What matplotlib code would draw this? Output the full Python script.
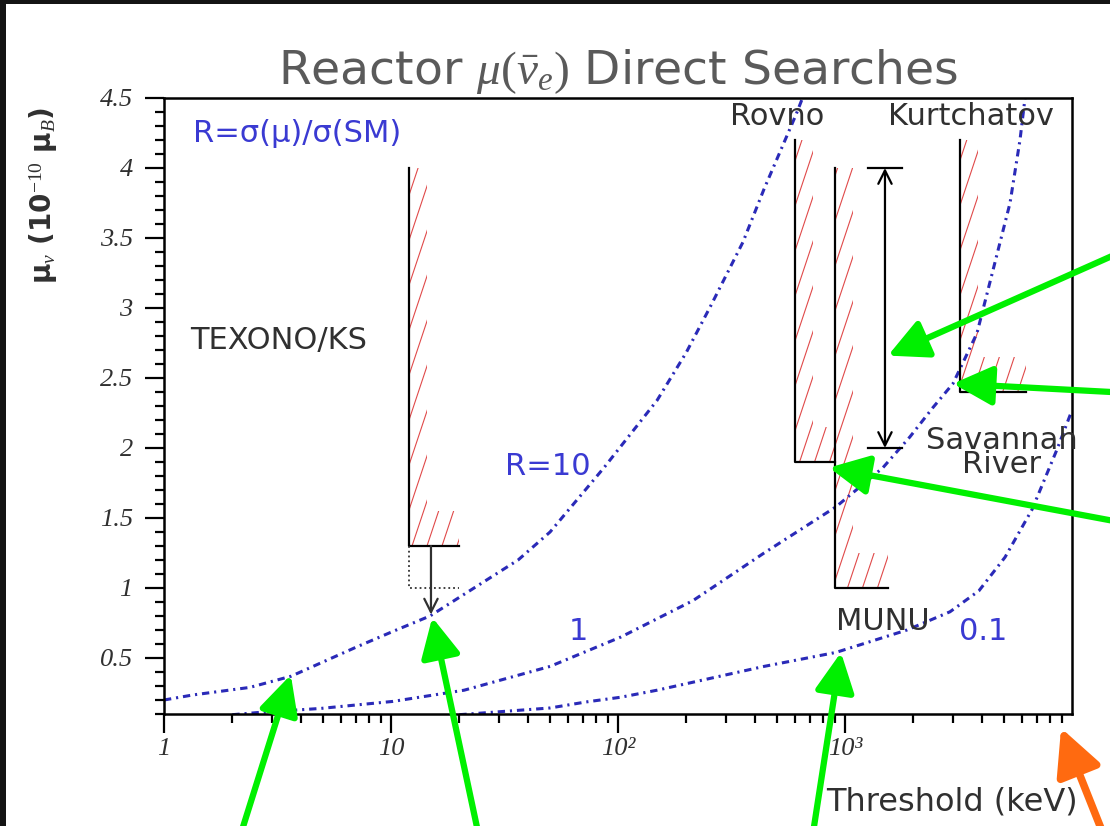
"""Reactor neutrino magnetic moment limits versus detector threshold."""

import matplotlib
matplotlib.use('Agg')
import matplotlib.pyplot as plt
import numpy as np
from matplotlib.collections import LineCollection
from matplotlib.patches import Polygon, Rectangle
from matplotlib.ticker import FixedLocator, FixedFormatter, NullFormatter

plt.rcParams.update({'font.family': 'DejaVu Sans',
                     'mathtext.fontset': 'custom',
                     'mathtext.rm': 'Liberation Serif',
                     'mathtext.it': 'Liberation Serif:italic',
                     'mathtext.bf': 'Liberation Serif:bold'})

blue = '#2a2ab8'
ink = '#303030'
hatch_red = '#e04a4a'

# iso-R curves, R = sigma(mu)/sigma(SM)
r10_thr = [1.0, 1.34, 2.39, 3.63, 7.08, 10.2, 14.85, 36.3, 50.2, 86.8, 148.6, 199.5, 257, 355, 440, 608, 650]
r10_mu = [0.20, 0.236, 0.29, 0.37, 0.58, 0.69, 0.80, 1.20, 1.40, 1.86, 2.34, 2.68, 3.02, 3.47, 3.85, 4.38, 4.5]
r1_thr = [2.0, 2.57, 4.92, 10.2, 21.0, 50.2, 103, 214, 440, 913, 1470, 1933, 2443, 2990, 3814, 4487, 5333, 5900, 6210]
r1_mu = [0.095, 0.11, 0.14, 0.19, 0.27, 0.44, 0.65, 0.91, 1.25, 1.58, 1.86, 2.08, 2.29, 2.46, 2.82, 3.27, 3.75, 4.2, 4.5]
r01_thr = [20, 25.2, 50.2, 72.3, 103, 148.6, 440, 913, 1875, 2900, 3890, 5070, 6665, 8590, 10000]
r01_mu = [0.095, 0.107, 0.143, 0.186, 0.22, 0.27, 0.44, 0.54, 0.70, 0.83, 0.98, 1.22, 1.56, 1.99, 2.27]

# experiments: threshold (keV), limit, top of drawn line, end of base line
exp_names = ['TEXONO/KS', 'Rovno', 'MUNU', 'Kurtchatov']
exp_thr = [12, 600, 900, 3200]
exp_limit = [1.3, 1.9, 1.0, 2.4]
exp_top = [4.0, 4.2, 4.0, 4.2]
exp_end = [20, 900, 1550, 6300]

texono_goal = 1.0
texono_arrow_x = 15
texono_arrow_tip = 0.81

sr_thr = 1500
sr_range = [2.0, 4.0]

xticks = [1, 10, 100, 1000]
xticklabels = ['1', '10', '10²', '10³']
yticks = [0.5, 1, 1.5, 2, 2.5, 3, 3.5, 4, 4.5]

W, H = 1110, 826
fig = plt.figure(figsize=(W / 100, H / 100), dpi=100, facecolor='#141414')
fig.add_artist(Rectangle((6 / W, 0), 1, 1 - 4 / H, transform=fig.transFigure,
                         facecolor='white', edgecolor='none', zorder=0))
ax = fig.add_axes([164 / W, 1 - 714 / H, (1072 - 164) / W, (714 - 98) / H])
ax.set_xscale('log')
ax.set_xlim(1, 1e4)
ax.set_ylim(0.1, 4.5)

dash = (0, (2.4, 1.6, 0.7, 1.6))
for xs, ys in [(r10_thr, r10_mu), (r1_thr, r1_mu), (r01_thr, r01_mu)]:
    ax.plot(xs, ys, color=blue, lw=2.2, ls=dash, zorder=2)

# steep red hatching, clipped to an L-shaped band beside each limit
offsets = np.arange(-0.3, 1.05, 0.0165)
segs = [[(o, 0), (o + 0.226, 1)] for o in offsets]
for thr, lim, top, end in zip(exp_thr, exp_limit, exp_top, exp_end):
    band = [(thr, top), (thr, lim), (end, lim), (end, lim + 0.25),
            (thr * 1.2, lim + 0.25), (thr * 1.2, top)]
    poly = Polygon(band, closed=True, fc='none', ec='none', transform=ax.transData)
    ax.add_patch(poly)
    lc = LineCollection(segs, colors=hatch_red, lw=0.8, transform=ax.transAxes, zorder=1)
    ax.add_collection(lc, autolim=False)
    lc.set_clip_path(poly)
    ax.plot([thr, thr, end], [top, lim, lim], color='k', lw=1.6, zorder=3)

# TEXONO goal and projected reach
ax.plot([exp_thr[0], exp_thr[0], exp_end[0]], [exp_limit[0], texono_goal, texono_goal],
        color=ink, lw=1.3, ls=':', zorder=3)
ax.annotate('', xy=(texono_arrow_x, texono_arrow_tip), xytext=(texono_arrow_x, exp_limit[0]),
            arrowprops=dict(arrowstyle='->', color=ink, lw=1.6, mutation_scale=24,
                            shrinkA=0, shrinkB=0), zorder=3)

# Savannah River range
ax.annotate('', xy=(sr_thr, sr_range[1]), xytext=(sr_thr, sr_range[0]),
            arrowprops=dict(arrowstyle='<->', color='k', lw=1.6, mutation_scale=24,
                            shrinkA=0, shrinkB=0), zorder=3)
for v in sr_range:
    ax.plot([sr_thr / 1.19, sr_thr * 1.19], [v, v], color='k', lw=1.6, zorder=3)

tkw = dict(fontsize=22, color=ink, zorder=4)
ax.text(1.3, 2.77, 'TEXONO/KS', ha='left', va='center', **tkw)
ax.text(501, 4.37, 'Rovno', ha='center', va='center', **tkw)
ax.text(3590, 4.37, 'Kurtchatov', ha='center', va='center', **tkw)
ax.text(1469, 0.76, 'MUNU', ha='center', va='center', **tkw)
ax.text(4900, 1.97, 'Savannah\nRiver', ha='center', va='center', linespacing=0.8,
        clip_on=False, **tkw)

bkw = dict(fontsize=22, color='#3a3ad2', zorder=4, va='center')
ax.text(1.34, 4.25, 'R=σ(μ)/σ(SM)', ha='left', **bkw)
ax.text(49.2, 1.87, 'R=10', ha='center', **bkw)
ax.text(66.6, 0.69, '1', ha='center', **bkw)
ax.text(4055, 0.69, '0.1', ha='center', **bkw)

for s in ax.spines.values():
    s.set_linewidth(1.8)
ax.xaxis.set_major_locator(FixedLocator(xticks))
ax.xaxis.set_major_formatter(FixedFormatter(xticklabels))
ax.xaxis.set_minor_locator(FixedLocator([m * 10 ** d for d in range(4) for m in range(2, 10)]))
ax.xaxis.set_minor_formatter(NullFormatter())
ax.yaxis.set_major_locator(FixedLocator(yticks))
ax.yaxis.set_major_formatter(FixedFormatter([f'{v:g}' for v in yticks]))
ax.yaxis.set_minor_locator(FixedLocator(np.round(np.arange(0.1, 4.51, 0.1), 2)))
ax.tick_params(which='major', direction='out', length=13.5, width=1.6,
               labelsize=19, labelcolor=ink, top=False, right=False)
ax.tick_params(which='minor', direction='out', length=6.5, width=1.6, top=False, right=False)
ax.tick_params(axis='x', which='major', pad=4)
ax.tick_params(axis='y', which='major', pad=9)
for lab in ax.get_xticklabels() + ax.get_yticklabels():
    lab.set_family('Liberation Serif')
    lab.set_style('italic')

fig.text(618 / W, 1 - 72 / H, r'Reactor $\mu(\bar{\nu}_e)$ Direct Searches',
         ha='center', va='center', fontsize=34, color='#5a5a5a')
fig.text(1078 / W, 1 - 802 / H, 'Threshold (keV)', ha='right', va='center',
         fontsize=23, color=ink)
fig.text(44 / W, 1 - 195 / H, r'μ$_\nu$ (10$^{-10}$ μ$_B$)', rotation=90,
         ha='center', va='center', fontsize=20, fontweight='bold', color=ink)

# pointer arrows (tip in data coordinates, tail in figure pixels)
green_tips = [(3.62, 0.38), (15.2, 0.79), (960, 0.54), (1546, 2.66), (2990, 2.46), (851, 1.86)]
green_tails = [(237, -20), (481, -20), (811, -20), (1130, 578), (1130, 433), (1130, 302)]
for tip, tail in zip(green_tips, green_tails):
    ax.annotate('', xy=tip, xycoords='data', xytext=tail, textcoords='figure pixels',
                annotation_clip=False, zorder=10,
                arrowprops=dict(arrowstyle='-|>', color='#00f000', lw=4.5,
                                mutation_scale=60, shrinkA=0, shrinkB=0))
ax.annotate('', xy=(8950, 0.0), xycoords='data', xytext=(1108, -20), textcoords='figure pixels',
            annotation_clip=False, zorder=10,
            arrowprops=dict(arrowstyle='-|>', color='#ff6a10', lw=5.5,
                            mutation_scale=70, shrinkA=0, shrinkB=0))

fig.savefig('out.png', dpi=100, facecolor=fig.get_facecolor())
